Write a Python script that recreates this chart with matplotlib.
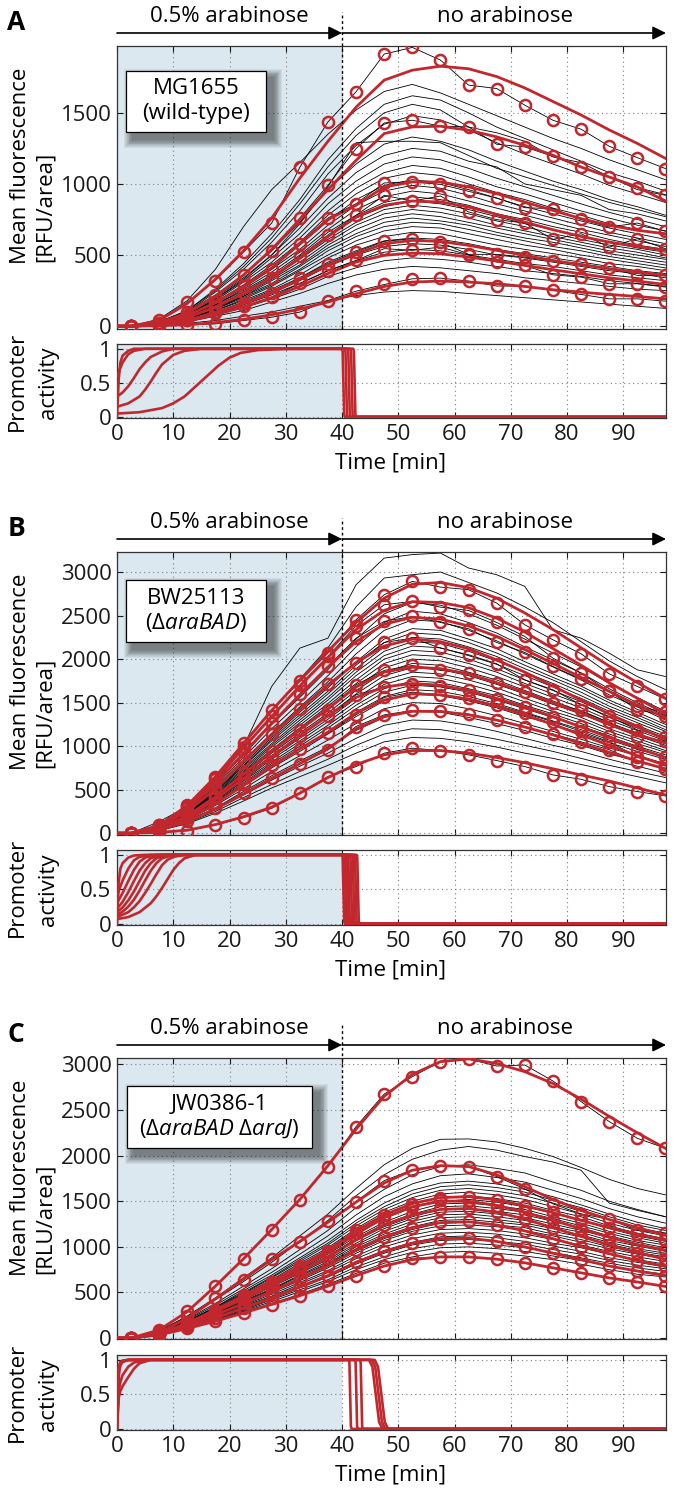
import matplotlib
matplotlib.use("Agg")
import matplotlib.pyplot as plt
from matplotlib.patches import Rectangle
from matplotlib.transforms import blended_transform_factory

plt.rcParams['font.family'] = ['Open Sans', 'DejaVu Sans']
plt.rcParams['mathtext.fontset'] = 'custom'
plt.rcParams['mathtext.rm'] = 'Open Sans'
plt.rcParams['mathtext.it'] = 'Open Sans:italic'

W, H = 679, 1491
RED = '#c1272d'
BLUE = '#dbe8f0'

# sampling times of the traces [min]
t_data = [2.5, 7.5, 12.5, 17.5, 22.5, 27.5, 32.5, 37.5, 42.5, 47.5,
          52.5, 57.5, 62.5, 67.5, 72.5, 77.5, 82.5, 87.5, 92.5, 97.5]
t_fit = [0] + t_data

# ---------------- panel A : MG1655 ----------------
a_black = [
    [0, 50, 180, 400, 700, 960, 1150, 1350, 1520, 1650, 1700, 1640, 1560, 1480, 1400, 1320, 1250, 1170, 1100, 1030],
    [0, 30, 110, 260, 440, 650, 890, 1170, 1390, 1560, 1620, 1590, 1500, 1400, 1320, 1240, 1160, 1080, 1020, 950],
    [0, 30, 110, 250, 420, 620, 860, 1120, 1340, 1500, 1560, 1520, 1400, 1360, 1300, 1190, 1150, 1050, 960, 920],
    [0, 30, 100, 240, 400, 590, 810, 1070, 1270, 1420, 1480, 1450, 1380, 1290, 1210, 1140, 1070, 990, 930, 870],
    [0, 20, 80, 190, 330, 500, 720, 980, 1290, 1300, 1300, 1290, 1200, 1110, 1050, 990, 930, 870, 820, 770],
    [0, 30, 90, 210, 360, 530, 730, 960, 1140, 1280, 1330, 1300, 1240, 1160, 1090, 1020, 960, 890, 840, 780],
    [0, 20, 90, 200, 340, 500, 690, 900, 1080, 1200, 1250, 1230, 1160, 1120, 1000, 960, 920, 820, 790, 740],
    [0, 20, 80, 190, 320, 480, 650, 860, 1020, 1140, 1190, 1170, 1110, 1040, 980, 920, 860, 800, 750, 700],
    [0, 20, 80, 180, 310, 450, 620, 810, 970, 1080, 1130, 1110, 1050, 980, 930, 870, 810, 760, 710, 670],
    [0, 20, 80, 170, 290, 430, 590, 780, 930, 1040, 1080, 1060, 1000, 940, 890, 830, 780, 720, 680, 640],
    [0, 20, 70, 160, 280, 410, 570, 740, 890, 990, 1030, 1010, 960, 900, 840, 790, 740, 690, 650, 610],
    [0, 20, 70, 160, 270, 400, 540, 710, 850, 950, 990, 970, 920, 860, 810, 760, 710, 660, 620, 580],
    [0, 20, 70, 150, 260, 380, 520, 680, 820, 910, 950, 930, 880, 830, 780, 730, 680, 640, 600, 560],
    [0, 20, 60, 150, 250, 360, 500, 660, 780, 870, 910, 890, 850, 790, 750, 700, 660, 610, 570, 540],
    [0, 20, 60, 140, 240, 350, 480, 630, 760, 840, 880, 860, 820, 770, 720, 680, 630, 590, 550, 520],
    [0, 20, 60, 140, 230, 340, 470, 610, 730, 820, 850, 830, 790, 740, 700, 650, 610, 570, 540, 500],
    [0, 20, 60, 130, 220, 330, 450, 590, 710, 790, 820, 800, 760, 710, 670, 630, 590, 550, 520, 480],
    [0, 20, 60, 130, 210, 320, 430, 570, 680, 760, 790, 770, 730, 690, 650, 610, 570, 530, 500, 470],
    [0, 20, 50, 120, 210, 300, 420, 550, 650, 730, 760, 740, 710, 660, 620, 590, 550, 510, 480, 450],
    [0, 10, 50, 120, 200, 290, 400, 530, 630, 700, 730, 720, 680, 640, 600, 560, 530, 490, 460, 430],
    [0, 10, 50, 110, 190, 280, 390, 500, 600, 670, 700, 690, 650, 610, 570, 540, 500, 470, 440, 410],
    [0, 10, 50, 110, 180, 260, 360, 480, 570, 630, 660, 650, 610, 570, 540, 510, 480, 440, 420, 390],
    [0, 10, 40, 100, 170, 250, 340, 450, 530, 600, 620, 610, 580, 540, 510, 480, 450, 420, 390, 370],
    [0, 10, 40, 90, 160, 230, 320, 420, 500, 560, 580, 570, 540, 500, 480, 450, 420, 390, 370, 340],
    [0, 10, 40, 90, 150, 220, 300, 390, 460, 520, 540, 530, 500, 470, 440, 420, 390, 360, 340, 320],
    [0, 10, 30, 80, 130, 190, 260, 350, 410, 460, 480, 470, 450, 420, 390, 370, 350, 320, 300, 280],
    [0, 10, 30, 70, 110, 170, 230, 300, 360, 400, 420, 410, 390, 370, 340, 320, 300, 280, 260, 250],
    [0, 5, 20, 40, 70, 100, 140, 180, 215, 240, 250, 245, 230, 215, 200, 185, 170, 155, 140, 125],
]
a_red_data = [
    [0, 40, 169, 321, 521, 725, 1117, 1436, 1648, 1913, 1960, 1871, 1695, 1671, 1554, 1448, 1385, 1265, 1185, 1108],
    [0, 25, 100, 220, 360, 530, 760, 990, 1249, 1429, 1448, 1406, 1401, 1279, 1260, 1194, 1119, 1049, 974, 925],
    [0, 20, 80, 170, 280, 400, 580, 760, 861, 1007, 1014, 997, 948, 901, 833, 826, 751, 697, 725, 667],
    [0, 15, 65, 140, 230, 340, 490, 640, 779, 920, 880, 915, 803, 749, 725, 610, 650, 556, 615, 545],
    [0, 10, 45, 100, 160, 235, 340, 440, 521, 596, 615, 591, 505, 505, 486, 458, 439, 408, 357, 357],
    [0, 10, 40, 90, 140, 205, 300, 390, 462, 545, 533, 556, 502, 451, 427, 361, 345, 298, 298, 275],
    [0, 2, 8, 16, 40, 63, 99, 180, 246, 293, 333, 338, 317, 282, 282, 251, 223, 192, 192, 176],
]
a_red_fit = [
    [0, 0, 40, 160, 330, 530, 760, 1040, 1300, 1540, 1730, 1800, 1828, 1810, 1755, 1675, 1580, 1485, 1380, 1285, 1180],
    [0, 0, 25, 95, 210, 360, 540, 750, 960, 1166, 1354, 1401, 1406, 1378, 1331, 1272, 1202, 1119, 1049, 979, 880],
    [0, 0, 20, 75, 165, 280, 410, 580, 750, 850, 979, 1014, 1014, 979, 932, 873, 814, 756, 709, 674, 650],
    [0, 0, 15, 60, 135, 230, 340, 480, 630, 767, 850, 880, 873, 838, 786, 732, 678, 631, 591, 561, 533],
    [0, 0, 10, 42, 95, 160, 235, 330, 430, 509, 580, 603, 596, 568, 533, 498, 462, 432, 404, 380, 357],
    [0, 0, 8, 35, 80, 135, 200, 280, 370, 451, 498, 514, 509, 486, 458, 427, 397, 368, 340, 317, 293],
    [0, 0, 3, 10, 25, 48, 80, 120, 170, 228, 279, 310, 317, 310, 298, 279, 256, 239, 223, 209, 192],
]
a_prom_t = [
    [0, 4, 8, 10, 12, 14, 16, 18, 20, 22, 25, 30, 42.0, 42.12, 42.25, 42.38, 42.5, 97.5],
    [0, 2, 4, 5, 6, 7, 8, 10, 12, 15, 41.5, 41.62, 41.75, 41.88, 42.0, 97.5],
    [0, 1, 2, 3, 4, 5, 6, 8, 10, 41.0, 41.12, 41.25, 41.38, 41.5, 97.5],
    [0, 0.5, 1, 2, 3, 5, 40.5, 40.62, 40.75, 40.88, 41.0, 97.5],
    [0, 0.3, 0.6, 1, 2, 3, 40.0, 40.12, 40.25, 40.38, 40.5, 97.5],
]
a_prom_v = [
    [0.05, 0.07, 0.13, 0.2, 0.3, 0.45, 0.6, 0.75, 0.87, 0.94, 0.98, 1, 1, 0.96, 0.5, 0.04, 0, 0],
    [0.15, 0.2, 0.3, 0.4, 0.52, 0.65, 0.77, 0.91, 0.97, 1, 1, 0.96, 0.5, 0.04, 0, 0],
    [0.3, 0.36, 0.45, 0.57, 0.7, 0.8, 0.88, 0.96, 1, 1, 0.96, 0.5, 0.04, 0, 0],
    [0.6, 0.7, 0.8, 0.92, 0.97, 1, 1, 0.96, 0.5, 0.04, 0, 0],
    [0, 0.55, 0.8, 0.9, 0.97, 1, 1, 0.96, 0.5, 0.04, 0, 0],
]

# ---------------- panel B : BW25113 ----------------
b_black = [
    [0, 134, 306, 575, 996, 1686, 2126, 2241, 2854, 3160, 3200, 3218, 3046, 2969, 2835, 2337, 2241, 2069, 1877, 1800],
    [0, 90, 300, 630, 1020, 1410, 1770, 2130, 2600, 2931, 2969, 3000, 2880, 2760, 2600, 2420, 2200, 1980, 1800, 1650],
    [0, 80, 270, 560, 900, 1250, 1560, 1880, 2230, 2520, 2650, 2620, 2520, 2390, 2230, 2070, 1910, 1720, 1560, 1400],
    [0, 80, 260, 540, 870, 1200, 1500, 1810, 2140, 2420, 2550, 2520, 2420, 2300, 2140, 1990, 1840, 1660, 1500, 1350],
    [0, 70, 250, 510, 830, 1150, 1450, 1740, 2060, 2330, 2450, 2430, 2330, 2210, 2060, 1910, 1760, 1590, 1450, 1300],
    [0, 70, 240, 490, 800, 1100, 1390, 1670, 1970, 2230, 2350, 2330, 2230, 2120, 1970, 1830, 1690, 1530, 1390, 1250],
    [0, 70, 230, 480, 780, 1080, 1360, 1630, 1930, 2190, 2300, 2280, 2190, 2070, 1930, 1790, 1660, 1500, 1360, 1220],
    [0, 70, 230, 470, 770, 1060, 1330, 1600, 1890, 2140, 2250, 2230, 2140, 2030, 1890, 1760, 1620, 1460, 1330, 1190],
    [0, 70, 220, 460, 750, 1030, 1300, 1560, 1850, 2090, 2200, 2180, 2090, 1980, 1850, 1720, 1580, 1430, 1300, 1170],
    [0, 60, 220, 450, 730, 1010, 1270, 1530, 1810, 2040, 2150, 2130, 2040, 1940, 1810, 1680, 1550, 1400, 1270, 1140],
    [0, 60, 210, 440, 710, 990, 1240, 1490, 1760, 2000, 2100, 2080, 2000, 1890, 1760, 1640, 1510, 1370, 1240, 1110],
    [0, 60, 210, 430, 700, 960, 1210, 1460, 1720, 1950, 2050, 2030, 1950, 1850, 1720, 1600, 1480, 1330, 1210, 1090],
    [0, 60, 200, 420, 680, 940, 1180, 1420, 1680, 1900, 2000, 1980, 1900, 1800, 1680, 1560, 1440, 1300, 1180, 1060],
    [0, 60, 200, 410, 660, 920, 1150, 1380, 1640, 1850, 1950, 1930, 1850, 1760, 1640, 1520, 1400, 1270, 1150, 1030],
    [0, 60, 190, 400, 650, 890, 1120, 1350, 1600, 1810, 1900, 1880, 1810, 1710, 1600, 1480, 1370, 1240, 1120, 1010],
    [0, 60, 190, 390, 630, 870, 1090, 1310, 1550, 1760, 1850, 1830, 1760, 1670, 1550, 1440, 1330, 1200, 1090, 980],
    [0, 50, 180, 380, 610, 850, 1060, 1280, 1510, 1710, 1800, 1780, 1710, 1620, 1510, 1400, 1300, 1170, 1060, 950],
    [0, 50, 180, 370, 600, 820, 1030, 1240, 1470, 1660, 1750, 1730, 1660, 1580, 1470, 1370, 1260, 1140, 1030, 930],
    [0, 50, 170, 360, 580, 800, 1000, 1210, 1430, 1620, 1700, 1680, 1620, 1530, 1430, 1330, 1220, 1110, 1000, 900],
    [0, 50, 170, 350, 560, 780, 970, 1170, 1390, 1570, 1650, 1630, 1570, 1490, 1390, 1290, 1190, 1070, 970, 870],
    [0, 50, 160, 340, 540, 750, 940, 1140, 1340, 1520, 1600, 1580, 1520, 1440, 1340, 1250, 1150, 1040, 940, 850],
    [0, 50, 150, 320, 510, 710, 890, 1070, 1260, 1430, 1500, 1490, 1430, 1350, 1260, 1170, 1080, 980, 890, 800],
    [0, 40, 140, 290, 480, 660, 830, 990, 1180, 1330, 1400, 1390, 1330, 1260, 1180, 1090, 1010, 910, 830, 740],
    [0, 40, 130, 270, 440, 610, 770, 920, 1090, 1240, 1300, 1290, 1240, 1170, 1090, 1010, 940, 850, 770, 690],
    [0, 40, 120, 250, 410, 560, 710, 850, 1010, 1140, 1200, 1190, 1140, 1080, 1010, 940, 860, 780, 710, 640],
    [0, 30, 110, 230, 370, 520, 650, 780, 920, 1050, 1100, 1090, 1050, 990, 920, 860, 790, 720, 650, 580],
]
b_red_data = [
    [0, 96, 326, 651, 1042, 1417, 1743, 2069, 2452, 2739, 2892, 2827, 2797, 2643, 2394, 2222, 2061, 1831, 1686, 1540],
    [0, 90, 310, 620, 990, 1350, 1700, 2030, 2383, 2624, 2663, 2597, 2559, 2421, 2260, 2011, 1839, 1628, 1456, 1390],
    [0, 80, 290, 580, 930, 1270, 1600, 1916, 2241, 2433, 2490, 2421, 2348, 2191, 2076, 1916, 1770, 1628, 1420, 1350],
    [0, 70, 260, 520, 840, 1140, 1430, 1716, 1954, 2191, 2241, 2126, 2050, 1946, 1762, 1647, 1475, 1341, 1188, 1100],
    [0, 60, 210, 430, 690, 950, 1190, 1417, 1705, 1870, 1927, 1870, 1840, 1724, 1617, 1494, 1410, 1272, 1110, 1060],
    [0, 50, 190, 400, 640, 890, 1120, 1341, 1590, 1680, 1716, 1690, 1640, 1540, 1450, 1340, 1230, 1120, 960, 880],
    [0, 50, 170, 350, 560, 780, 970, 1149, 1360, 1560, 1620, 1590, 1550, 1470, 1380, 1280, 1170, 1050, 880, 780],
    [0, 40, 140, 290, 460, 640, 800, 958, 1226, 1360, 1410, 1400, 1370, 1300, 1220, 1140, 1050, 960, 820, 740],
    [0, 10, 30, 96, 180, 287, 460, 651, 766, 920, 977, 950, 900, 835, 766, 670, 620, 536, 479, 429],
]
b_red_fit = [
    [0, 0, 90, 320, 650, 1030, 1410, 1760, 2090, 2420, 2700, 2860, 2880, 2820, 2700, 2530, 2340, 2130, 1920, 1730, 1550],
    [0, 0, 85, 300, 610, 980, 1340, 1690, 2020, 2340, 2560, 2660, 2650, 2590, 2470, 2310, 2120, 1930, 1730, 1550, 1370],
    [0, 0, 80, 280, 570, 920, 1260, 1590, 1910, 2200, 2400, 2480, 2460, 2380, 2260, 2110, 1950, 1790, 1630, 1470, 1330],
    [0, 0, 70, 250, 510, 830, 1130, 1420, 1700, 1960, 2150, 2230, 2200, 2120, 1990, 1850, 1690, 1530, 1370, 1220, 1080],
    [0, 0, 60, 200, 420, 680, 940, 1190, 1430, 1680, 1850, 1910, 1890, 1830, 1730, 1620, 1500, 1380, 1250, 1130, 1040],
    [0, 0, 50, 180, 390, 630, 880, 1120, 1350, 1560, 1680, 1720, 1700, 1640, 1550, 1450, 1340, 1220, 1100, 980, 870],
    [0, 0, 50, 160, 340, 550, 770, 970, 1160, 1380, 1530, 1600, 1590, 1540, 1460, 1360, 1250, 1130, 1010, 890, 780],
    [0, 0, 40, 130, 280, 450, 630, 800, 970, 1200, 1340, 1400, 1400, 1360, 1300, 1220, 1130, 1030, 930, 830, 740],
    [0, 0, 10, 35, 100, 190, 300, 460, 640, 790, 900, 950, 950, 920, 870, 810, 740, 670, 600, 520, 440],
]
b_prom_t = [
    [0, 2, 4, 6, 7, 8, 9, 10, 11, 12, 14, 42.6, 42.72, 42.85, 42.98, 43.1, 97.5],
    [0, 2, 3, 4, 5, 6, 7, 8, 9, 10, 12, 42.2, 42.32, 42.45, 42.58, 42.7, 97.5],
    [0, 1, 2, 3, 4, 5, 6, 7, 8, 10, 41.8, 41.92, 42.05, 42.18, 42.3, 97.5],
    [0, 1, 2, 3, 4, 5, 6, 7, 9, 41.4, 41.52, 41.65, 41.78, 41.9, 97.5],
    [0, 1, 2, 3, 4, 5, 6, 8, 41.0, 41.12, 41.25, 41.38, 41.5, 97.5],
    [0, 1, 2, 3, 4, 5, 7, 40.7, 40.82, 40.95, 41.08, 41.2, 97.5],
    [0, 0.5, 1, 2, 3, 4, 6, 40.35, 40.47, 40.6, 40.73, 40.85, 97.5],
    [0, 0.3, 0.6, 1, 2, 3, 5, 40.0, 40.12, 40.25, 40.38, 40.5, 97.5],
]
b_prom_v = [
    [0.07, 0.1, 0.17, 0.3, 0.4, 0.52, 0.65, 0.78, 0.88, 0.95, 1, 1, 0.96, 0.5, 0.04, 0, 0],
    [0.1, 0.17, 0.24, 0.33, 0.45, 0.58, 0.72, 0.85, 0.93, 0.97, 1, 1, 0.96, 0.5, 0.04, 0, 0],
    [0.13, 0.18, 0.25, 0.35, 0.48, 0.63, 0.77, 0.88, 0.95, 1, 1, 0.96, 0.5, 0.04, 0, 0],
    [0.17, 0.24, 0.34, 0.47, 0.62, 0.77, 0.88, 0.95, 1, 1, 0.96, 0.5, 0.04, 0, 0],
    [0.22, 0.32, 0.46, 0.62, 0.77, 0.88, 0.95, 1, 1, 0.96, 0.5, 0.04, 0, 0],
    [0.3, 0.45, 0.62, 0.78, 0.9, 0.96, 1, 1, 0.96, 0.5, 0.04, 0, 0],
    [0.4, 0.52, 0.63, 0.8, 0.92, 0.97, 1, 1, 0.96, 0.5, 0.04, 0, 0],
    [0, 0.6, 0.8, 0.88, 0.96, 0.99, 1, 1, 0.96, 0.5, 0.04, 0, 0],
]

# ---------------- panel C : JW0386-1 ----------------
c_black = [
    [0, 80, 240, 440, 660, 880, 1120, 1360, 1640, 1900, 2080, 2179, 2183, 2150, 2080, 1990, 1870, 1740, 1640, 1570],
    [0, 70, 230, 420, 620, 830, 1060, 1290, 1560, 1790, 1960, 2060, 2100, 2060, 1990, 1930, 1840, 1480, 1400, 1330],
    [0, 70, 210, 380, 570, 760, 970, 1180, 1430, 1630, 1790, 1880, 1900, 1860, 1810, 1710, 1620, 1500, 1410, 1330],
    [0, 60, 200, 360, 540, 720, 920, 1120, 1350, 1550, 1690, 1780, 1800, 1760, 1710, 1620, 1530, 1420, 1330, 1260],
    [0, 60, 190, 340, 520, 690, 880, 1070, 1290, 1480, 1620, 1700, 1720, 1690, 1630, 1550, 1460, 1360, 1270, 1200],
    [0, 60, 180, 340, 500, 670, 860, 1040, 1260, 1440, 1580, 1660, 1680, 1650, 1600, 1510, 1430, 1330, 1240, 1180],
    [0, 60, 180, 330, 490, 660, 840, 1020, 1230, 1410, 1540, 1620, 1640, 1610, 1560, 1480, 1390, 1300, 1210, 1150],
    [0, 60, 180, 320, 480, 640, 820, 990, 1200, 1380, 1500, 1580, 1600, 1570, 1520, 1440, 1360, 1260, 1180, 1120],
    [0, 50, 170, 310, 470, 620, 800, 970, 1170, 1340, 1470, 1540, 1560, 1530, 1480, 1400, 1330, 1230, 1150, 1090],
    [0, 50, 170, 300, 460, 610, 780, 940, 1140, 1310, 1430, 1500, 1520, 1490, 1440, 1370, 1290, 1200, 1120, 1060],
    [0, 50, 160, 300, 440, 590, 750, 920, 1110, 1270, 1390, 1470, 1480, 1450, 1410, 1330, 1260, 1170, 1100, 1040],
    [0, 50, 160, 290, 440, 580, 740, 900, 1090, 1250, 1360, 1440, 1450, 1420, 1380, 1310, 1230, 1150, 1070, 1020],
    [0, 50, 160, 280, 430, 570, 720, 880, 1070, 1220, 1330, 1410, 1420, 1390, 1350, 1280, 1210, 1120, 1050, 990],
    [0, 50, 150, 280, 420, 560, 710, 860, 1040, 1200, 1310, 1380, 1390, 1360, 1320, 1250, 1180, 1100, 1030, 970],
    [0, 50, 150, 270, 410, 540, 690, 840, 1020, 1170, 1280, 1350, 1360, 1330, 1290, 1220, 1160, 1070, 1010, 950],
    [0, 50, 150, 270, 400, 530, 680, 820, 1000, 1140, 1250, 1320, 1330, 1300, 1260, 1200, 1130, 1050, 980, 930],
    [0, 50, 140, 260, 390, 520, 660, 810, 980, 1120, 1220, 1290, 1300, 1270, 1240, 1170, 1110, 1030, 960, 910],
    [0, 40, 140, 250, 380, 510, 650, 790, 950, 1090, 1190, 1260, 1270, 1240, 1210, 1140, 1080, 1000, 940, 890],
    [0, 40, 140, 250, 370, 500, 630, 770, 930, 1070, 1170, 1230, 1240, 1220, 1180, 1120, 1050, 980, 920, 870],
    [0, 40, 130, 240, 360, 480, 610, 740, 900, 1030, 1130, 1190, 1200, 1180, 1140, 1080, 1020, 950, 890, 840],
    [0, 40, 130, 230, 350, 460, 590, 720, 870, 1000, 1090, 1150, 1160, 1140, 1100, 1040, 990, 920, 860, 810],
    [0, 40, 120, 220, 340, 450, 570, 690, 840, 960, 1050, 1110, 1120, 1100, 1060, 1010, 950, 880, 830, 780],
    [0, 40, 120, 220, 320, 430, 550, 670, 810, 930, 1020, 1070, 1080, 1060, 1030, 970, 920, 850, 800, 760],
    [0, 40, 110, 210, 310, 420, 530, 640, 780, 890, 980, 1030, 1040, 1020, 990, 940, 880, 820, 770, 730],
    [0, 30, 110, 200, 300, 400, 510, 620, 750, 860, 940, 990, 1000, 980, 950, 900, 850, 790, 740, 700],
    [0, 30, 100, 190, 290, 380, 480, 590, 710, 820, 890, 940, 950, 930, 900, 860, 810, 750, 700, 670],
]
c_red_data = [
    [0, 91, 292, 566, 865, 1186, 1515, 1880, 2318, 2675, 2865, 3030, 3059, 2982, 2993, 2818, 2592, 2373, 2190, 2081],
    [0, 70, 240, 440, 639, 865, 1048, 1278, 1497, 1726, 1843, 1891, 1880, 1770, 1635, 1471, 1361, 1303, 1180, 1150],
    [0, 50, 170, 310, 470, 620, 790, 960, 1180, 1350, 1470, 1540, 1550, 1510, 1450, 1380, 1290, 1210, 1140, 1077],
    [0, 50, 160, 300, 450, 600, 770, 940, 1150, 1320, 1440, 1515, 1500, 1450, 1380, 1290, 1200, 1100, 1020, 967],
    [0, 50, 160, 290, 430, 570, 730, 880, 1080, 1240, 1350, 1410, 1424, 1380, 1300, 1210, 1110, 1020, 930, 865],
    [0, 45, 140, 260, 380, 510, 650, 790, 970, 1110, 1210, 1270, 1278, 1240, 1170, 1090, 1000, 920, 850, 785],
    [0, 40, 120, 220, 330, 440, 560, 680, 830, 950, 1040, 1090, 1095, 1060, 1000, 930, 860, 790, 730, 686],
    [0, 37, 110, 183, 274, 365, 464, 566, 683, 785, 876, 887, 887, 865, 821, 767, 712, 657, 620, 566],
]
c_red_fit = [
    [0, 0, 90, 290, 570, 870, 1190, 1520, 1890, 2290, 2650, 2890, 3030, 3060, 3010, 2920, 2790, 2620, 2430, 2250, 2080],
    [0, 0, 60, 220, 430, 650, 860, 1060, 1270, 1490, 1700, 1840, 1890, 1880, 1790, 1660, 1520, 1400, 1300, 1210, 1130],
    [0, 0, 50, 165, 310, 465, 625, 790, 965, 1175, 1350, 1475, 1540, 1550, 1515, 1450, 1375, 1290, 1210, 1140, 1075],
    [0, 0, 50, 155, 300, 450, 600, 770, 940, 1140, 1320, 1440, 1500, 1500, 1455, 1380, 1290, 1200, 1105, 1025, 965],
    [0, 0, 50, 155, 290, 430, 575, 730, 885, 1075, 1240, 1350, 1410, 1420, 1380, 1305, 1210, 1115, 1020, 935, 865],
    [0, 0, 45, 135, 255, 380, 510, 650, 795, 965, 1110, 1210, 1265, 1275, 1240, 1175, 1090, 1005, 925, 850, 785],
    [0, 0, 40, 115, 220, 330, 440, 560, 685, 830, 950, 1040, 1090, 1095, 1060, 1000, 930, 860, 790, 735, 686],
    [0, 0, 35, 105, 185, 275, 370, 465, 570, 685, 790, 860, 890, 890, 865, 825, 770, 715, 660, 615, 566],
]
c_prom_t = [
    [0, 0.3, 0.6, 1, 2, 41.2, 41.32, 41.45, 41.58, 41.7, 97.5],
    [0, 0.4, 0.8, 1.5, 3, 42.3, 42.42, 42.55, 42.68, 42.8, 97.5],
    [0, 0.3, 0.6, 1, 2, 3, 4, 6, 43.2, 43.32, 43.45, 43.58, 43.7, 97.5],
    [0, 0.3, 0.6, 1, 2, 3, 5, 44.8, 45.4, 46.0, 46.6, 47.2, 97.5],
    [0, 0.3, 0.6, 1, 2, 45.3, 45.9, 46.5, 47.1, 47.7, 97.5],
    [0, 0.3, 0.6, 1, 2, 45.8, 46.4, 47.0, 47.6, 48.2, 97.5],
]
c_prom_v = [
    [0, 0.85, 0.95, 0.98, 1, 1, 0.96, 0.5, 0.04, 0, 0],
    [0, 0.88, 0.96, 0.99, 1, 1, 0.96, 0.5, 0.04, 0, 0],
    [0, 0.45, 0.55, 0.62, 0.75, 0.87, 0.95, 1, 1, 0.96, 0.5, 0.04, 0, 0],
    [0, 0.55, 0.68, 0.78, 0.9, 0.96, 1, 1, 0.9, 0.5, 0.1, 0, 0],
    [0, 0.8, 0.92, 0.97, 1, 1, 0.9, 0.5, 0.1, 0, 0],
    [0, 0.9, 0.97, 0.99, 1, 1, 0.9, 0.5, 0.1, 0, 0],
]

fig = plt.figure(figsize=(W / 100, H / 100), dpi=100)


def px_axes(l, t, r, b):
    return fig.add_axes([l / W, 1 - b / H, (r - l) / W, (b - t) / H])


def fx(x):
    return x / W


def fy(y):
    return 1 - y / H


def style(ax):
    ax.tick_params(direction='in', length=4, width=0.8, top=True, right=True,
                   labelsize=16, pad=4, colors='#1a1a1a')
    for s in ax.spines.values():
        s.set_linewidth(0.9)
        s.set_color('#333333')
    ax.grid(True, ls=(0, (1, 3)), color='#7f7f7f', lw=0.8)


def shadow_box(l, t, r, b, line1, line2):
    for k in range(10, 0, -1):
        e = k * 0.9
        fig.add_artist(Rectangle((fx(l + 7 - e), fy(b + 7 + e)), (r - l + 2 * e) / W,
                                 (b - t + 2 * e) / H, transform=fig.transFigure,
                                 facecolor='black', alpha=0.055, lw=0, zorder=5))
    fig.add_artist(Rectangle((fx(l), fy(b)), (r - l) / W, (b - t) / H,
                             transform=fig.transFigure, facecolor='white',
                             edgecolor='black', lw=0.9, zorder=6))
    fig.text(fx((l + r) / 2), fy(t + 18), line1, ha='center', va='center',
             fontsize=16, zorder=7)
    fig.text(fx((l + r) / 2), fy(t + 43), line2, ha='center', va='center',
             fontsize=16, zorder=7)


def draw_panel(letter, top, bot, ptop, pbot, ylim, yticks, black, red_data, red_fit,
               prom_t, prom_v, unit, box, line1, line2):
    dy = top - 46
    ax = px_axes(117, top, 666, bot)
    ax.axvspan(0, 40, color=BLUE, lw=0, zorder=0.5)
    for row in black:
        ax.plot(t_data, row, color='black', lw=0.6, zorder=2)
    for row in red_data:
        ax.plot(t_data, row, color='black', lw=0.6, zorder=2)
    for row in red_fit:
        ax.plot(t_fit, row, color=RED, lw=2.0, zorder=3)
    for row in red_data:
        ax.plot(t_data, row, ls='none', marker='o', ms=8, mfc='none', mec=RED,
                mew=1.8, zorder=4)
    ax.set_xlim(0, 97.6)
    ax.set_ylim(*ylim)
    ax.set_xticks(range(0, 100, 10))
    ax.set_xticklabels([])
    ax.set_yticks(yticks)
    style(ax)

    trans = blended_transform_factory(ax.transData, ax.transAxes)
    h = bot - top
    ya = 1 + 13 / h
    ax.plot([40, 40], [0, 1 + 34 / h], transform=trans, color='black', lw=1.0,
            ls=(0, (2, 2)), clip_on=False, zorder=5)
    for x0, x1 in [(0, 40), (40, 97.6)]:
        ax.annotate('', xy=(x1, ya), xytext=(x0, ya), xycoords=trans, textcoords=trans,
                    arrowprops=dict(arrowstyle='-|>', color='black', lw=1.2,
                                    mutation_scale=20, shrinkA=0, shrinkB=0),
                    annotation_clip=False)
    ax.text(20, 1 + 29 / h, '0.5% arabinose', transform=trans, ha='center',
            va='center', fontsize=16)
    ax.text(69, 1 + 29 / h, 'no arabinose', transform=trans, ha='center',
            va='center', fontsize=16)

    pax = px_axes(117, ptop, 666, pbot)
    pax.axvspan(0, 40, color=BLUE, lw=0, zorder=0.5)
    for tt, vv in zip(prom_t, prom_v):
        pax.plot(tt, vv, color=RED, lw=1.9, zorder=3)
    pax.set_xlim(0, 97.6)
    pax.set_ylim(-0.015, 1.07)
    pax.set_xticks(range(0, 100, 10))
    pax.set_yticks([0, 0.5, 1])
    pax.set_yticklabels(['0', '0.5', '1'])
    style(pax)

    fig.text(fx(16), fy(22 + dy), letter, fontsize=19, fontweight='bold',
             ha='center', va='center')
    fig.text(fx(21), fy(166 + dy), 'Mean fluorescence', rotation=90,
             ha='center', va='center', fontsize=16)
    fig.text(fx(45), fy(207 + dy), '[' + unit + '/area]', rotation=90,
             ha='center', va='center', fontsize=16)
    pc = (ptop + pbot) / 2
    fig.text(fx(17), fy(pc), 'Promoter', rotation=90, ha='center', va='center',
             fontsize=16)
    fig.text(fx(48), fy(pc + 2), 'activity', rotation=90, ha='center',
             va='center', fontsize=16)
    fig.text(fx(391), fy(pbot + 45), 'Time [min]', ha='center', va='center',
             fontsize=16)
    shadow_box(*box, line1, line2)


draw_panel('A', 46, 329, 344, 418, (-20, 1970), [0, 500, 1000, 1500],
           a_black, a_red_data, a_red_fit, a_prom_t, a_prom_v, 'RFU',
           (126, 71, 266, 132), 'MG1655', '(wild-type)')
draw_panel('B', 552, 835, 850, 925, (-20, 3230), [0, 500, 1000, 1500, 2000, 2500, 3000],
           b_black, b_red_data, b_red_fit, b_prom_t, b_prom_v, 'RFU',
           (126, 580, 266, 642), 'BW25113', r'($\Delta\mathit{araBAD}$)')
draw_panel('C', 1058, 1339, 1355, 1430, (-10, 3070), [0, 500, 1000, 1500, 2000, 2500, 3000],
           c_black, c_red_data, c_red_fit, c_prom_t, c_prom_v, 'RLU',
           (127, 1086, 312, 1148), 'JW0386-1',
           r'($\Delta\mathit{araBAD}$ $\Delta\mathit{araJ}$)')

fig.savefig('out.png', dpi=100)
